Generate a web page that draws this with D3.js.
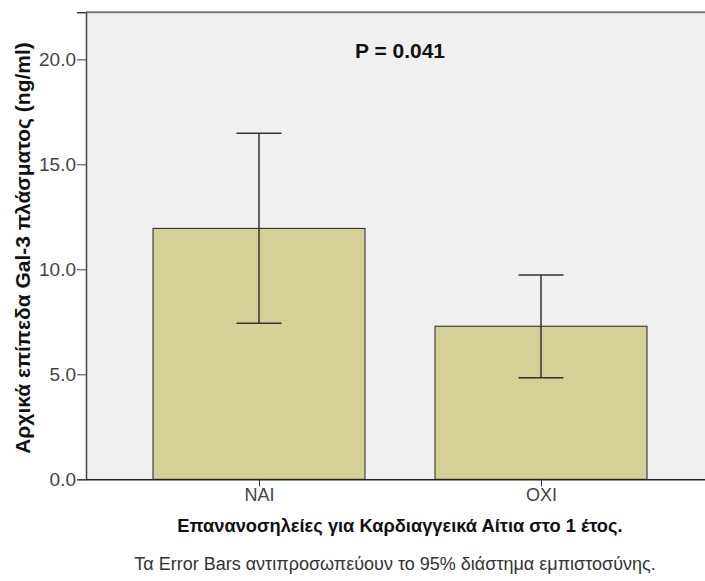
<!DOCTYPE html>
<html><head><meta charset="utf-8">
<script src="https://cdn.jsdelivr.net/npm/d3@7"></script>
<style>body{margin:0;background:#fff}svg{display:block}</style>
</head><body>
<svg id="c" width="705" height="581"></svg>
<script>
const categories = ["ΝΑΙ", "ΟΧΙ"];
const means = [11.95, 7.29];
const ciLow = [7.43, 4.84];
const ciHigh = [16.48, 9.73];
const yTicks = [0, 5, 10, 15, 20];
const pText = "P = 0.041";
const yTitle = "Αρχικά επίπεδα Gal-3 πλάσματος (ng/ml)";
const xTitle = "Επανανοσηλείες για Καρδιαγγεικά Αίτια στο 1 έτος.";
const footnote = "Τα Error Bars αντιπροσωπεύουν το 95% διάστημα εμπιστοσύνης.";

const svg = d3.select("#c");
const L = 86, R = 714, T = 12.3, B = 479.3;
const narrow = "'Liberation Sans Narrow','Arial Narrow','Liberation Sans',Arial,sans-serif";
const bold = "'Liberation Sans',Arial,sans-serif";

const y = d3.scaleLinear().domain([0, 22.24]).range([B, T]);
const x = d3.scalePoint().domain(categories).range([L, R]).padding(0.6135);
const barW = 212, capW = 45;

svg.append("rect").attr("x", L).attr("y", T).attr("width", R - L).attr("height", B - T)
  .attr("fill", "#f0f0f0").attr("stroke", "none");
svg.append("line").attr("x1", L).attr("x2", R).attr("y1", T).attr("y2", T)
  .attr("stroke", "#777").attr("stroke-width", 2);

const bars = svg.append("g");
categories.forEach((c, i) => {
  bars.append("rect").attr("x", x(c) - barW / 2).attr("y", y(means[i]))
    .attr("width", barW).attr("height", y(0) - y(means[i]))
    .attr("fill", "#d5d098").attr("stroke", "#222").attr("stroke-width", 1);
});
const eb = svg.append("g").attr("stroke", "#333").attr("stroke-width", 1.5);
categories.forEach((c, i) => {
  eb.append("line").attr("x1", x(c)).attr("x2", x(c)).attr("y1", y(ciLow[i])).attr("y2", y(ciHigh[i]));
  eb.append("line").attr("x1", x(c) - capW / 2).attr("x2", x(c) + capW / 2).attr("y1", y(ciLow[i])).attr("y2", y(ciLow[i]));
  eb.append("line").attr("x1", x(c) - capW / 2).attr("x2", x(c) + capW / 2).attr("y1", y(ciHigh[i])).attr("y2", y(ciHigh[i]));
});

const yAxis = svg.append("g").attr("transform", `translate(${L},0)`)
  .call(d3.axisLeft(y).tickValues(yTicks).tickFormat(d3.format(".1f")).tickSize(9).tickPadding(1));
yAxis.select(".domain").attr("stroke", "#444").attr("stroke-width", 1.5);
yAxis.selectAll(".tick line").attr("stroke", "#444");
yAxis.selectAll("text").attr("font-family", narrow).attr("font-size", 19).attr("fill", "#444");

const xAxis = svg.append("g").attr("transform", `translate(0,${B})`)
  .call(d3.axisBottom(x).tickSize(7).tickSizeOuter(0).tickPadding(2));
xAxis.select(".domain").attr("stroke", "#222").attr("stroke-width", 1.5);
xAxis.selectAll(".tick line").attr("stroke", "#333");
xAxis.selectAll("text").attr("font-family", narrow).attr("font-size", 18).attr("fill", "#444");

svg.append("text").attr("x", 400).attr("y", 58).attr("text-anchor", "middle")
  .attr("font-family", bold).attr("font-weight", "bold").attr("font-size", 21).attr("fill", "#111").text(pText);

svg.append("text").attr("transform", "translate(30,248) rotate(-90)").attr("text-anchor", "middle")
  .attr("font-family", bold).attr("font-weight", "bold").attr("font-size", 21).attr("fill", "#111").text(yTitle);

svg.append("text").attr("x", 400).attr("y", 532).attr("text-anchor", "middle")
  .attr("font-family", bold).attr("font-weight", "bold").attr("font-size", 18.3).attr("fill", "#111").text(xTitle);

svg.append("text").attr("x", 395).attr("y", 570).attr("text-anchor", "middle")
  .attr("font-family", narrow).attr("font-size", 18).attr("fill", "#333").text(footnote);
</script>
</body></html>
